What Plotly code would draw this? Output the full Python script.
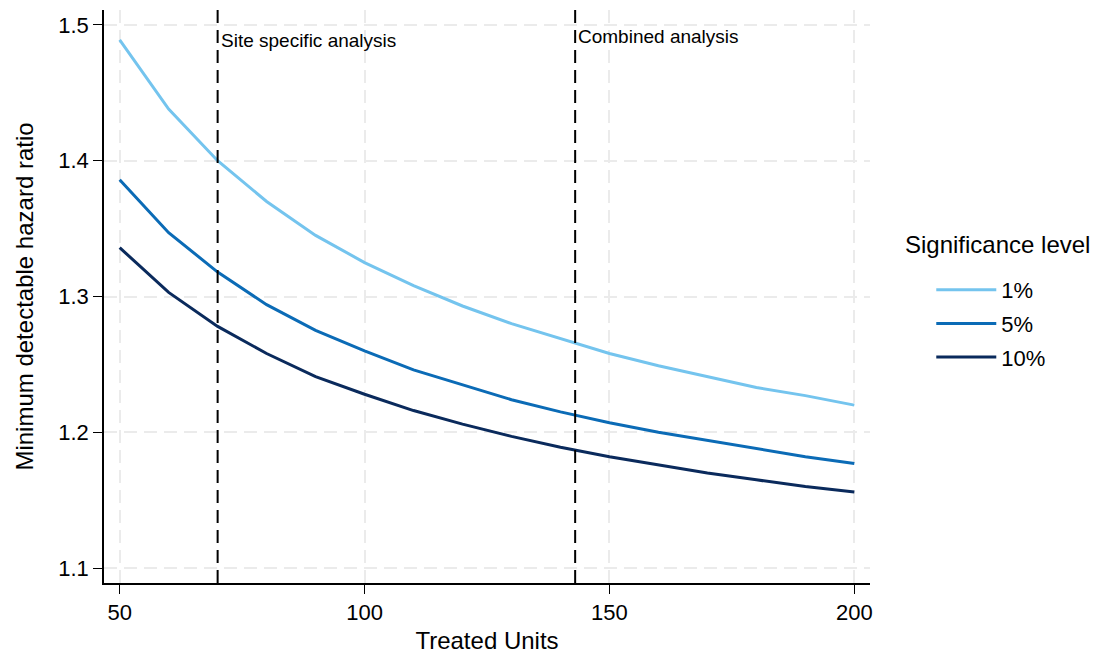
import plotly.graph_objects as go

treated_units = [50, 60, 70, 80, 90, 100, 110, 120, 130, 140, 150, 160, 170, 180, 190, 200]
mdhr_1pct = [1.489, 1.438, 1.400, 1.370, 1.345, 1.325, 1.308, 1.293, 1.280, 1.269, 1.258, 1.249, 1.241, 1.233, 1.227, 1.220]
mdhr_5pct = [1.386, 1.347, 1.318, 1.294, 1.275, 1.260, 1.246, 1.235, 1.224, 1.215, 1.207, 1.200, 1.194, 1.188, 1.182, 1.177]
mdhr_10pct = [1.336, 1.303, 1.278, 1.258, 1.241, 1.228, 1.216, 1.206, 1.197, 1.189, 1.182, 1.176, 1.170, 1.165, 1.160, 1.156]
series_names = ["1%", "5%", "10%"]
series_colors = ["#74c4ee", "#0b6bb6", "#0a2a5c"]

ref_lines_x = [70, 143]
ref_labels = ["Site specific analysis", "Combined analysis"]
ref_label_y = [0.946, 0.953]

x_ticks = [50, 100, 150, 200]
y_ticks = [1.1, 1.2, 1.3, 1.4, 1.5]

FONT = "Liberation Sans, Arial, sans-serif"

fig = go.Figure()
for name, ys, col in zip(series_names, [mdhr_1pct, mdhr_5pct, mdhr_10pct], series_colors):
    fig.add_trace(go.Scatter(x=treated_units, y=ys, mode="lines", name=name, legendgroup=name,
                             line=dict(color=col, width=3)))

for xv, lab, ly in zip(ref_lines_x, ref_labels, ref_label_y):
    fig.add_shape(type="line", xref="x", yref="paper", x0=xv, x1=xv, y0=0, y1=1,
                  line=dict(color="black", width=2, dash="13px,7px"))
    fig.add_annotation(x=xv, xref="x", y=ly, yref="paper", text=lab, showarrow=False,
                       xanchor="left", yanchor="middle", xshift=1,
                       font=dict(family=FONT, size=19, color="black"))

# legend title
fig.add_annotation(x=1.166, xref="paper", y=0.590, yref="paper", text="Significance level",
                   showarrow=False, xanchor="center", yanchor="middle",
                   font=dict(family=FONT, size=24, color="black"))

fig.update_layout(
    width=1096, height=655,
    margin=dict(l=104, r=226, t=10, b=72),
    paper_bgcolor="white", plot_bgcolor="white",
    font=dict(family=FONT, size=22, color="black"),
    legend=dict(x=1.080, xanchor="left", y=0.548, yanchor="top",
                font=dict(size=22), itemwidth=60, traceorder="grouped", tracegroupgap=2),
    xaxis=dict(range=[46.8, 203.2], tickvals=x_ticks, ticks="outside", ticklen=9,
               tickcolor="black", showline=True, linecolor="black", linewidth=1.5,
               showgrid=True, gridcolor="#ebebeb", griddash="13px,7px", gridwidth=1.5,
               zeroline=False, tickfont=dict(size=22), automargin=False,
               title=dict(text="Treated Units", font=dict(size=24), standoff=8)),
    yaxis=dict(range=[1.089, 1.511], tickvals=y_ticks, tickformat=".1f", ticks="outside", ticklen=9,
               tickcolor="black", showline=True, linecolor="black", linewidth=1.5,
               showgrid=True, gridcolor="#ebebeb", griddash="13px,7px", gridwidth=1.5,
               zeroline=False, tickfont=dict(size=22), automargin=False,
               title=dict(text="Minimum detectable hazard ratio", font=dict(size=24), standoff=18)),
)

fig.write_html("out.html")
